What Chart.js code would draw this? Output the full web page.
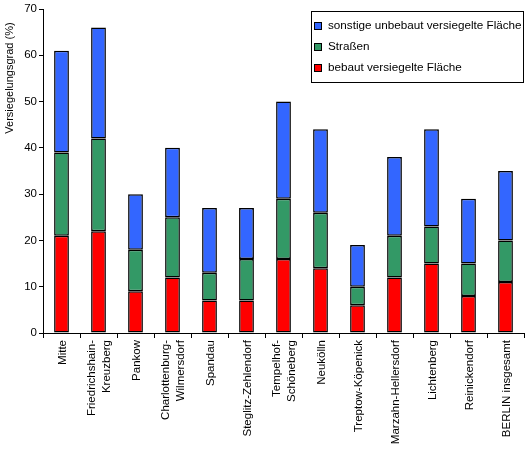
<!DOCTYPE html>
<html>
<head>
<meta charset="utf-8">
<script src="https://cdn.jsdelivr.net/npm/chart.js@4"></script>
<style>
    body{ margin:0; background:#fff; }
    #wrap{ width:530px; height:450px; }
</style>
</head>
<body>
<div id="wrap"><canvas id="versiegelungChart"></canvas></div>
<script>
// Bezirke
var bezirke = [
    'Mitte', ['Friedrichshain-', 'Kreuzberg'], 'Pankow', ['Charlottenburg-', 'Wilmersdorf'],
    'Spandau', 'Steglitz-Zehlendorf', ['Tempelhof-', 'Schöneberg'], 'Neukölln',
    'Treptow-Köpenick', 'Marzahn-Hellersdorf', 'Lichtenberg', 'Reinickendorf', 'BERLIN insgesamt'
];

// Anteile in %
var bebaut    = [21, 22, 9, 12, 7, 7, 16, 14, 6, 12, 15, 8, 11];
var strassen  = [18, 20, 9, 13, 6, 9, 13, 12, 4, 9, 8, 7, 9];
var sonstige  = [22, 24, 12, 15, 14, 11, 21, 18, 9, 17, 21, 14, 15];

var yTicks = [0, 10, 20, 30, 40, 50, 60, 70];
var yTitle = 'Versiegelungsgrad (%)';

var FONT = 'Liberation Sans, Arial, sans-serif';

// legend box inside the plot, like the original
var boxLegend = {
    id: 'boxLegend',
    afterDraw: function(chart){
        var ctx = chart.ctx;
        var x = 311, y = 11, w = 212, h = 71;
        ctx.save();
        ctx.fillStyle = '#fff';
        ctx.fillRect(x, y, w, h);
        ctx.strokeStyle = '#000';
        ctx.lineWidth = 1;
        ctx.strokeRect(x + 0.5, y + 0.5, w, h);
        ctx.font = '11.7px ' + FONT;
        ctx.textBaseline = 'middle';
        var sets = chart.data.datasets.slice().reverse();
        sets.forEach(function(ds, i){
            var cy = y + 15 + i * 21;
            ctx.fillStyle = ds.backgroundColor;
            ctx.fillRect(x + 3, cy - 4, 7, 7);
            ctx.strokeRect(x + 3.5, cy - 3.5, 7, 7);
            ctx.fillStyle = '#000';
            ctx.fillText(ds.label, x + 17, cy);
        });
        ctx.restore();
    }
};

// rotated category labels (multi-line centred on the tick) + y title
var axisText = {
    id: 'axisText',
    afterDraw: function(chart){
        var ctx = chart.ctx;
        var xs = chart.scales.x;
        ctx.save();
        ctx.fillStyle = '#000';
        ctx.font = '11.5px ' + FONT;
        ctx.textAlign = 'right';
        ctx.textBaseline = 'middle';
        chart.data.labels.forEach(function(lbl, i){
            var lines = Array.isArray(lbl) ? lbl : [lbl];
            var px = xs.getPixelForTick(i);
            lines.forEach(function(line, j){
                var cx = px + 1 + (j - (lines.length - 1) / 2) * 15;
                ctx.save();
                ctx.translate(cx, xs.top + 7);
                ctx.rotate(-Math.PI / 2);
                ctx.fillText(line, 0, 0);
                ctx.restore();
            });
        });

        ctx.font = '11px ' + FONT;
        ctx.textAlign = 'center';
        ctx.translate(10, 78);
        ctx.rotate(-Math.PI / 2);
        ctx.fillText(yTitle, 0, 0);
        ctx.restore();
    }
};

window.onload = function(){
    var ctx = document.getElementById('versiegelungChart').getContext('2d');

    var common = {
        borderColor: '#000',
        borderWidth: 1.5,
        borderSkipped: false,
        categoryPercentage: 1.0,
        barPercentage: 0.4
    };

    var data = {
        labels: bezirke,
        datasets: [
            Object.assign({ label: 'bebaut versiegelte Fläche', data: bebaut, backgroundColor: '#ff0000' }, common),
            Object.assign({ label: 'Straßen', data: strassen, backgroundColor: '#339966' }, common),
            Object.assign({ label: 'sonstige unbebaut versiegelte Fläche', data: sonstige, backgroundColor: '#3366ff' }, common)
        ]
    };

    var config = {
        type: 'bar',
        data: data,
        options: {
            responsive: true,
            maintainAspectRatio: false,
            animation: false,
            layout: { padding: { top: 9, right: 6, left: 0, bottom: 0 } },
            plugins: {
                legend: { display: false },
                tooltip: { enabled: false }
            },
            scales: {
                x: {
                    stacked: true,
                    offset: true,
                    afterFit: function(scale){ scale.height = 117; },
                    border: { display: true, color: '#000', width: 1 },
                    grid: {
                        display: true,
                        offset: true,
                        drawOnChartArea: false,
                        drawTicks: true,
                        tickLength: 5,
                        color: '#000'
                    },
                    ticks: { display: false, autoSkip: false }
                },
                y: {
                    stacked: true,
                    min: 0,
                    max: 70,
                    afterFit: function(scale){ scale.width = 43; },
                    afterBuildTicks: function(scale){
                        scale.ticks = yTicks.map(function(v){ return { value: v }; });
                    },
                    border: { display: true, color: '#000', width: 1 },
                    grid: {
                        display: true,
                        drawOnChartArea: false,
                        drawTicks: true,
                        tickLength: 4,
                        color: '#000'
                    },
                    ticks: {
                        padding: 2,
                        color: '#000',
                        font: { family: FONT, size: 11.5 }
                    }
                }
            }
        },
        plugins: [boxLegend, axisText]
    };

    var versiegelungChart = new Chart(ctx, config);
};
</script>
</body>
</html>
